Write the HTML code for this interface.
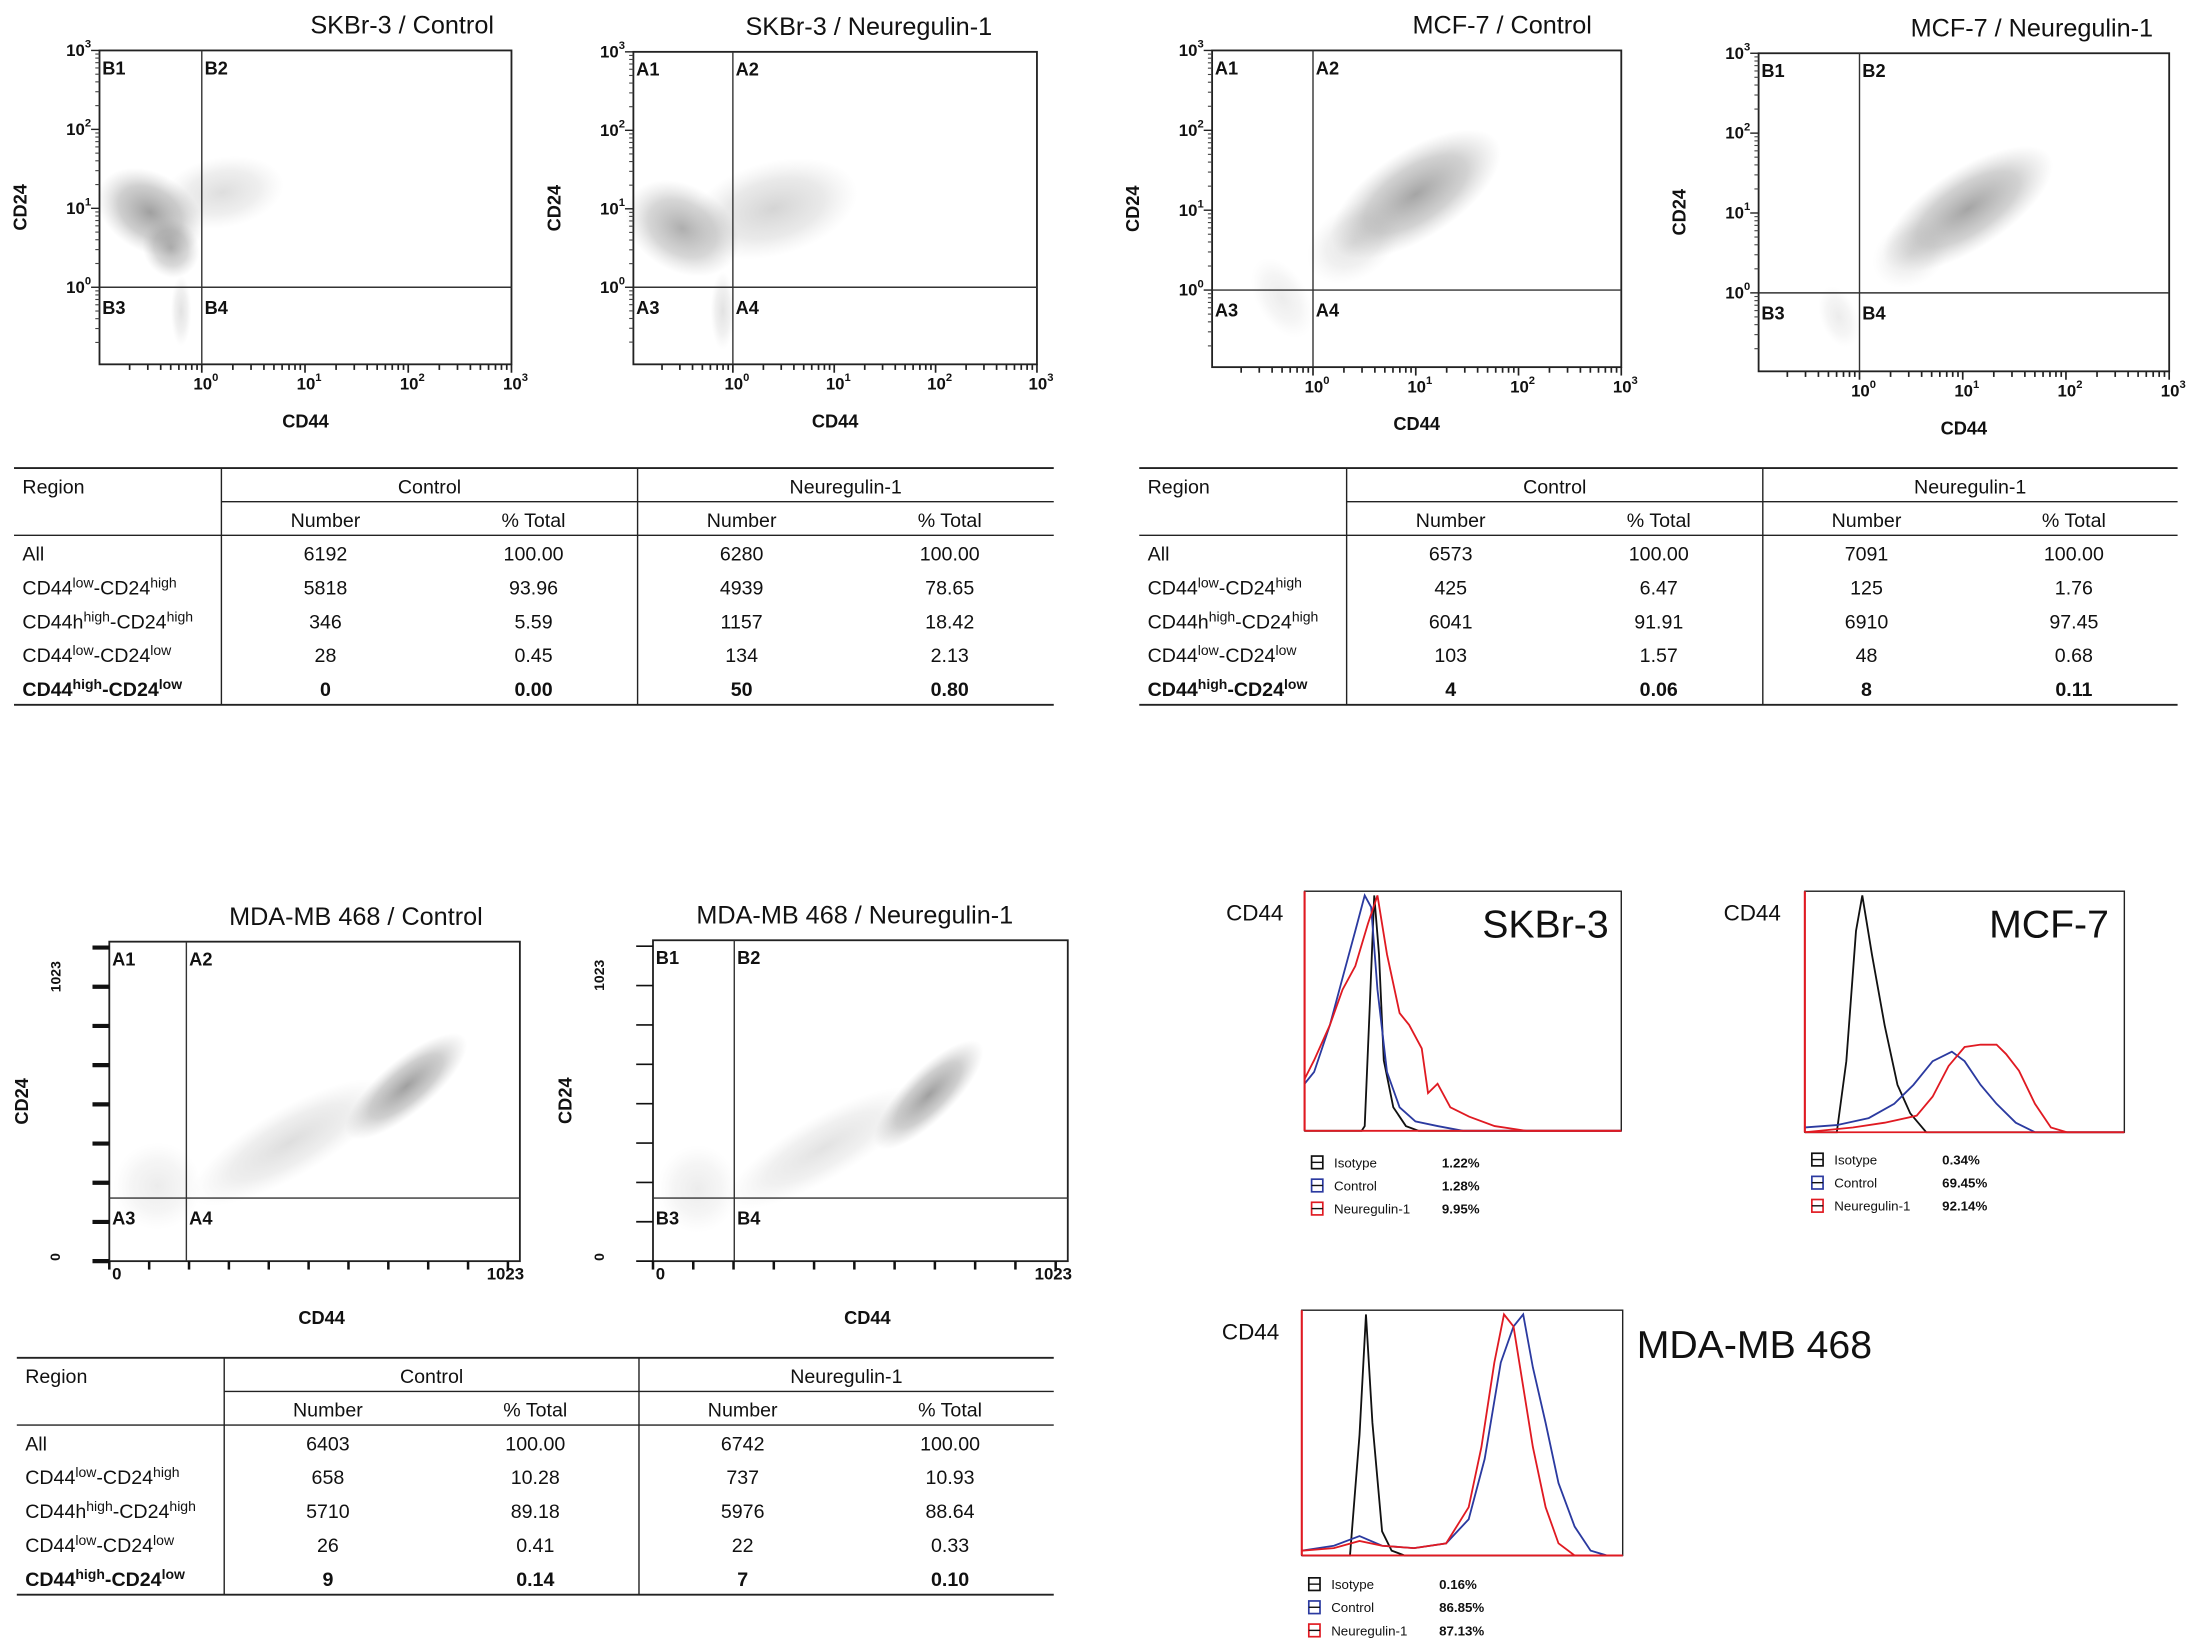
<!DOCTYPE html>
<html><head><meta charset="utf-8">
<style>
html,body{margin:0;padding:0;background:#fff;}
svg{display:block;font-family:"Liberation Sans","Noto Sans CJK KR",sans-serif;}
</style></head>
<body>
<svg id="fig" width="2186" height="1643" viewBox="0 0 1560 1172.5" xmlns="http://www.w3.org/2000/svg">
<defs>
<radialGradient id="cloud"><stop offset="0" stop-color="#777" stop-opacity="0.7"/><stop offset="0.6" stop-color="#888" stop-opacity="0.4"/><stop offset="1" stop-color="#aaa" stop-opacity="0"/></radialGradient>
</defs>
</svg>
<script>
// ---------- DATA ----------
// Scatter cloud descriptors: [cx, cy, rx, ry, angleDeg, opacity] in data units (log decades or linear 0-1023)
const skbrCtrlClouds = [[-0.5,0.95,0.55,0.5,-30,1],[-0.3,0.5,0.3,0.35,-60,0.8],[0.2,1.2,0.6,0.45,10,0.35],[-0.2,-0.3,0.1,0.45,0,0.3]];
const skbrNrgClouds  = [[-0.5,0.75,0.6,0.55,-30,0.85],[0.4,1.0,0.85,0.6,15,0.45],[-0.1,-0.3,0.12,0.5,0,0.3]];
const mcfCtrlClouds  = [[1.0,1.2,0.95,0.55,33,0.95],[0.4,0.6,0.5,0.45,35,0.3],[-0.3,-0.1,0.25,0.55,30,0.2]];
const mcfNrgClouds   = [[1.05,1.05,0.95,0.5,33,0.95],[0.5,0.5,0.4,0.4,35,0.25],[-0.2,-0.3,0.18,0.4,20,0.2]];
const mdaCtrlClouds  = [[740,560,190,85,40,1],[450,380,280,110,30,0.35],[120,240,110,140,0,0.2]];
const mdaNrgClouds   = [[680,530,180,80,45,1],[420,360,270,100,30,0.3],[110,230,100,140,0,0.2]];
// Histogram series: x fraction, y fraction
const skIsoX=[0,0.18,0.19,0.205,0.22,0.235,0.25,0.28,0.32,0.36,1], skIsoY=[0,0,0.02,0.5,1.0,0.75,0.3,0.1,0.02,0,0];
const skCtlX=[0,0.03,0.08,0.12,0.16,0.19,0.21,0.23,0.26,0.3,0.35,0.42,0.5,1], skCtlY=[0.2,0.25,0.45,0.65,0.85,1.0,0.95,0.6,0.25,0.1,0.04,0.02,0,0];
const skNrgX=[0,0.03,0.08,0.12,0.16,0.2,0.23,0.26,0.3,0.33,0.37,0.39,0.42,0.46,0.52,0.6,0.7,1], skNrgY=[0.22,0.3,0.45,0.6,0.7,0.88,1.0,0.75,0.5,0.45,0.35,0.16,0.2,0.1,0.06,0.02,0,0];
const mcIsoX=[0,0.1,0.13,0.16,0.18,0.21,0.25,0.29,0.33,0.38,1], mcIsoY=[0,0,0.3,0.85,1.0,0.75,0.45,0.2,0.08,0,0];
const mcCtlX=[0,0.1,0.2,0.28,0.34,0.4,0.46,0.5,0.55,0.6,0.66,0.72,1], mcCtlY=[0.02,0.03,0.06,0.12,0.2,0.3,0.34,0.3,0.2,0.12,0.04,0,0];
const mcNrgX=[0,0.15,0.25,0.35,0.4,0.45,0.5,0.55,0.6,0.63,0.67,0.72,0.77,0.82,1], mcNrgY=[0,0.02,0.04,0.07,0.15,0.28,0.36,0.37,0.37,0.33,0.26,0.12,0.02,0,0];
const mdIsoX=[0,0.15,0.18,0.2,0.22,0.25,0.28,0.32,1], mdIsoY=[0,0,0.5,1.0,0.55,0.1,0.02,0,0];
const mdCtlX=[0,0.1,0.18,0.25,0.35,0.45,0.52,0.57,0.62,0.66,0.69,0.72,0.76,0.8,0.85,0.9,0.95,1], mdCtlY=[0.02,0.04,0.08,0.04,0.03,0.05,0.15,0.4,0.8,0.95,1.0,0.78,0.55,0.3,0.12,0.02,0,0];
const mdNrgX=[0,0.1,0.18,0.25,0.35,0.45,0.52,0.56,0.6,0.63,0.66,0.69,0.72,0.76,0.8,0.85,1], mdNrgY=[0.02,0.03,0.06,0.04,0.03,0.05,0.2,0.45,0.8,1.0,0.95,0.7,0.45,0.2,0.05,0,0];
// Tables
const tblCols=["Number","% Total","Number","% Total"];
const rowLabels=[["All"],["CD44","low","-CD24","high"],["CD44h","high","-CD24","high"],["CD44","low","-CD24","low"],["CD44","high","-CD24","low"]];
const skbrTable=[["6192","100.00","6280","100.00"],["5818","93.96","4939","78.65"],["346","5.59","1157","18.42"],["28","0.45","134","2.13"],["0","0.00","50","0.80"]];
const mcfTable=[["6573","100.00","7091","100.00"],["425","6.47","125","1.76"],["6041","91.91","6910","97.45"],["103","1.57","48","0.68"],["4","0.06","8","0.11"]];
const mdaTable=[["6403","100.00","6742","100.00"],["658","10.28","737","10.93"],["5710","89.18","5976","88.64"],["26","0.41","22","0.33"],["9","0.14","7","0.10"]];
const skLegend=[["Isotype","1.22%"],["Control","1.28%"],["Neuregulin-1","9.95%"]];
const mcLegend=[["Isotype","0.34%"],["Control","69.45%"],["Neuregulin-1","92.14%"]];
const mdLegend=[["Isotype","0.16%"],["Control","86.85%"],["Neuregulin-1","87.13%"]];
const logTicks=["10","10","10","10"], logExp=["0","1","2","3"];

// ---------- DRAW ----------
const svg=document.getElementById('fig');
const NS="http://www.w3.org/2000/svg";
function mk(tag,attrs,parent){const e=document.createElementNS(NS,tag);for(const k in attrs)e.setAttribute(k,attrs[k]);(parent||svg).appendChild(e);return e;}
function txt(x,y,s,size,opts,parent){const t=mk('text',Object.assign({x:x,y:y,'font-size':size,fill:'#111'},opts||{}),parent);t.textContent=s;return t;}

function scatter(name,title,tx,box,qx,qy,labels,isLog,clouds){
  const g=mk('g',{});
  
  
  const [x0,y0,x1,y1]=box;
  let sx,sy;
  if(isLog){ sx=v=>qx+(v)*(x1-qx)/3; sy=v=>qy-(v)*(qy-y0)/3; }
  else { sx=v=>x0+v/1023*(x1-x0); sy=v=>y1-v/1023*(y1-y0); }
  const t=txt(tx,box[1]-12,title,18,{'text-anchor':'middle'},g);
  
  
  for(const c of clouds){
    const e=mk('ellipse',{cx:sx(c[0]),cy:sy(c[1]),rx:Math.abs(sx(c[0]+c[2])-sx(c[0])),ry:Math.abs(sy(c[1]+c[3])-sy(c[1])),fill:'url(#cloud)',opacity:c[5],transform:`rotate(${-c[4]} ${sx(c[0])} ${sy(c[1])})`},g);
    
    
  }
  mk('rect',{x:x0,y:y0,width:x1-x0,height:y1-y0,fill:'none',stroke:'#222','stroke-width':1.3},g);
  mk('line',{x1:qx,y1:y0,x2:qx,y2:y1,stroke:'#333','stroke-width':1},g);
  mk('line',{x1:x0,y1:qy,x2:x1,y2:qy,stroke:'#333','stroke-width':1},g);
  const q=[[x0+2,y0+17],[qx+2,y0+17],[x0+2,qy+19],[qx+2,qy+19]];
  labels.forEach((l,i)=>txt(q[i][0],q[i][1],l,13,{'font-weight':'bold'},g));
  const yl=txt(0,0,'CD24',13,{'font-weight':'bold','text-anchor':'middle',transform:`translate(${x0-(isLog?52:58)},${(y0+y1)/2}) rotate(-90)`},g);
  
  
  const xl=txt((x0+x1)/2+(isLog?0:5),y1+45,'CD44',13,{'font-weight':'bold','text-anchor':'middle'},g);
  
  
  if(isLog){
    for(let d=0;d<4;d++){
      const ty=sy(d);
      mk('line',{x1:x0-6,y1:ty,x2:x0,y2:ty,stroke:'#222','stroke-width':1},g);
      const tt=txt(x0-6,ty+4,logTicks[d],12,{'text-anchor':'end','font-weight':'bold'},g);
      mk('tspan',{dy:-6,'font-size':8},tt).textContent=logExp[d];
      const tX=sx(d);
      mk('line',{x1:tX,y1:y1,x2:tX,y2:y1+6,stroke:'#222','stroke-width':1.2},g);
      const tx2=txt(tX-6,y1+18,logTicks[d],12,{'font-weight':'bold'},g);
      mk('tspan',{dy:-6,'font-size':8},tx2).textContent=logExp[d];
    }
    for(let d=-1;d<3;d++)for(let m=2;m<10;m++){
      const lv=d+Math.log10(m);
      const px=sx(lv); if(px>x0) mk('line',{x1:px,y1:y1,x2:px,y2:y1+4,stroke:'#222','stroke-width':1.2},g);
      const py=sy(lv); if(py<y1) mk('line',{x1:x0-3,y1:py,x2:x0,y2:py,stroke:'#444','stroke-width':0.8},g);
    }
  } else {
    for(let i=0;i<9;i++){const py=y1-i*(y1-y0)/8.15; mk('line',{x1:x0-12,y1:py,x2:x0,y2:py,stroke:'#111','stroke-width':name.includes('control')?3:1.2},g);}
    for(let i=0;i<11;i++){const px=x0+i*(x1-x0)/10.3; mk('line',{x1:px,y1:y1,x2:px,y2:y1+6,stroke:'#111','stroke-width':1.8},g);}
    txt(x0-35,y0+25,'1023',10,{'font-weight':'bold','text-anchor':'middle',transform:`rotate(-90 ${x0-35} ${y0+25})`},g);
    txt(x0-35,y1-3,'0',10,{'font-weight':'bold','text-anchor':'middle',transform:`rotate(-90 ${x0-35} ${y1-3})`},g);
    txt(x0+2,y1+13,'0',12,{'font-weight':'bold'},g);
    txt(x1+3,y1+13,'1023',12,{'font-weight':'bold','text-anchor':'end'},g);
  }
}
scatter('skbr3-control-scatter','SKBr-3 / Control',287,[71,36,365,260],144,205,['B1','B2','B3','B4'],true,skbrCtrlClouds);
scatter('skbr3-neuregulin-scatter','SKBr-3 / Neuregulin-1',620,[452,37,740,260],523,205,['A1','A2','A3','A4'],true,skbrNrgClouds);
scatter('mcf7-control-scatter','MCF-7 / Control',1072,[865,36,1157,262],937,207,['A1','A2','A3','A4'],true,mcfCtrlClouds);
scatter('mcf7-neuregulin-scatter','MCF-7 / Neuregulin-1',1450,[1255,38,1548,265],1327,209,['B1','B2','B3','B4'],true,mcfNrgClouds);
scatter('mda-control-scatter','MDA-MB 468 / Control',254,[78,672,371,900],133,855,['A1','A2','A3','A4'],false,mdaCtrlClouds);
scatter('mda-neuregulin-scatter','MDA-MB 468 / Neuregulin-1',610,[466,671,762,900],524,855,['B1','B2','B3','B4'],false,mdaNrgClouds);

function table(name,x0,x1,y0,d1,d2,data){
  const g=mk('g',{});
  
  
  const rh=24;
  mk('line',{x1:x0,y1:y0,x2:x1,y2:y0,stroke:'#222','stroke-width':1.3},g);
  mk('line',{x1:d1,y1:y0+rh,x2:x1,y2:y0+rh,stroke:'#222','stroke-width':1},g);
  mk('line',{x1:x0,y1:y0+2*rh,x2:x1,y2:y0+2*rh,stroke:'#222','stroke-width':1},g);
  const yb=y0+2*rh+121;
  mk('line',{x1:x0,y1:yb,x2:x1,y2:yb,stroke:'#222','stroke-width':1.3},g);
  mk('line',{x1:d1,y1:y0,x2:d1,y2:yb,stroke:'#222','stroke-width':1},g);
  mk('line',{x1:d2,y1:y0,x2:d2,y2:yb,stroke:'#222','stroke-width':1},g);
  txt(x0+6,y0+18,'Region',14,{},g);
  txt((d1+d2)/2,y0+18,'Control',14,{'text-anchor':'middle'},g);
  txt((d2+x1)/2,y0+18,'Neuregulin-1',14,{'text-anchor':'middle'},g);
  const cx=[d1+(d2-d1)*0.25,d1+(d2-d1)*0.75,d2+(x1-d2)*0.25,d2+(x1-d2)*0.75];
  tblCols.forEach((c,i)=>txt(cx[i],y0+rh+18,c,14,{'text-anchor':'middle'},g));
  data.forEach((row,r)=>{
    const y=y0+2*rh+18+r*24.2;
    const bold=r===4?{'font-weight':'bold'}:{};
    const lab=rowLabels[r];
    const t=txt(x0+6,y,lab[0],14,bold,g);
    if(lab.length>1){
      mk('tspan',Object.assign({dy:-5,'font-size':10},bold),t).textContent=lab[1];
      mk('tspan',Object.assign({dy:5,'font-size':14},bold),t).textContent=lab[2];
      mk('tspan',Object.assign({dy:-5,'font-size':10},bold),t).textContent=lab[3];
    }
    row.forEach((v,i)=>txt(cx[i],y,v,14,Object.assign({'text-anchor':'middle'},bold),g));
  });
}
table('skbr3-region-table',10,752,334,158,455,skbrTable);
table('mcf7-region-table',813,1554,334,961,1258,mcfTable);
table('mda-region-table',12,752,969,160,456,mdaTable);

function hist(name,box,label,lblPos,bigPos,series,legend,legY){
  const g=mk('g',{});
  
  
  const [x0,y0,x1,y1]=box;
  const sx=v=>x0+v*(x1-x0), sy=v=>y1-v*(y1-y0-3);
  mk('rect',{x:x0,y:y0,width:x1-x0,height:y1-y0,fill:'none',stroke:'#222','stroke-width':1},g);
  txt(lblPos[0],lblPos[1],'CD44',16,{},g);
  const bt=txt(bigPos[0],bigPos[1],label,28,{'text-anchor':bigPos[2]},g);
  
  
  const cols=['#111','#2b3aa0','#e01a22'];
  series.forEach((s,i)=>{
    const pts=s[0].map((xv,j)=>sx(xv).toFixed(1)+','+sy(s[1][j]).toFixed(1)).join(' ');
    const p=mk('polyline',{points:pts,fill:'none',stroke:cols[i],'stroke-width':1.3},g);
    
    
  });
  mk('line',{x1:x0,y1:y0,x2:x0,y2:y1,stroke:'#e01a22','stroke-width':1.5},g);
  mk('line',{x1:x0,y1:y1,x2:x1,y2:y1,stroke:'#e01a22','stroke-width':1.3},g);
  legend.forEach((l,i)=>{
    const y=legY+i*16.5;
    const le=mk('g',{},g);
    
    
    mk('rect',{x:x0+5,y:y-8,width:8,height:9,fill:'#fff',stroke:cols[i],'stroke-width':1.2},le);
    mk('line',{x1:x0+5,y1:y-3.5,x2:x0+13,y2:y-3.5,stroke:'#111','stroke-width':1},le);
    txt(x0+21,y,l[0],9.5,{},le);
    txt(x0+98,y,l[1],9.5,{'font-weight':'bold'},le);
  });
}
hist('skbr3-cd44-histogram',[931,636,1157,807],'SKBr-3',[875,657],[1148,669,'end'],[[skIsoX,skIsoY],[skCtlX,skCtlY],[skNrgX,skNrgY]],skLegend,833);
hist('mcf7-cd44-histogram',[1288,636,1516,808],'MCF-7',[1230,657],[1505,669,'end'],[[mcIsoX,mcIsoY],[mcCtlX,mcCtlY],[mcNrgX,mcNrgY]],mcLegend,831);
hist('mda-cd44-histogram',[929,935,1158,1110],'MDA-MB 468',[872,956],[1168,969,'start'],[[mdIsoX,mdIsoY],[mdCtlX,mdCtlY],[mdNrgX,mdNrgY]],mdLegend,1134);
</script>
</body></html>
